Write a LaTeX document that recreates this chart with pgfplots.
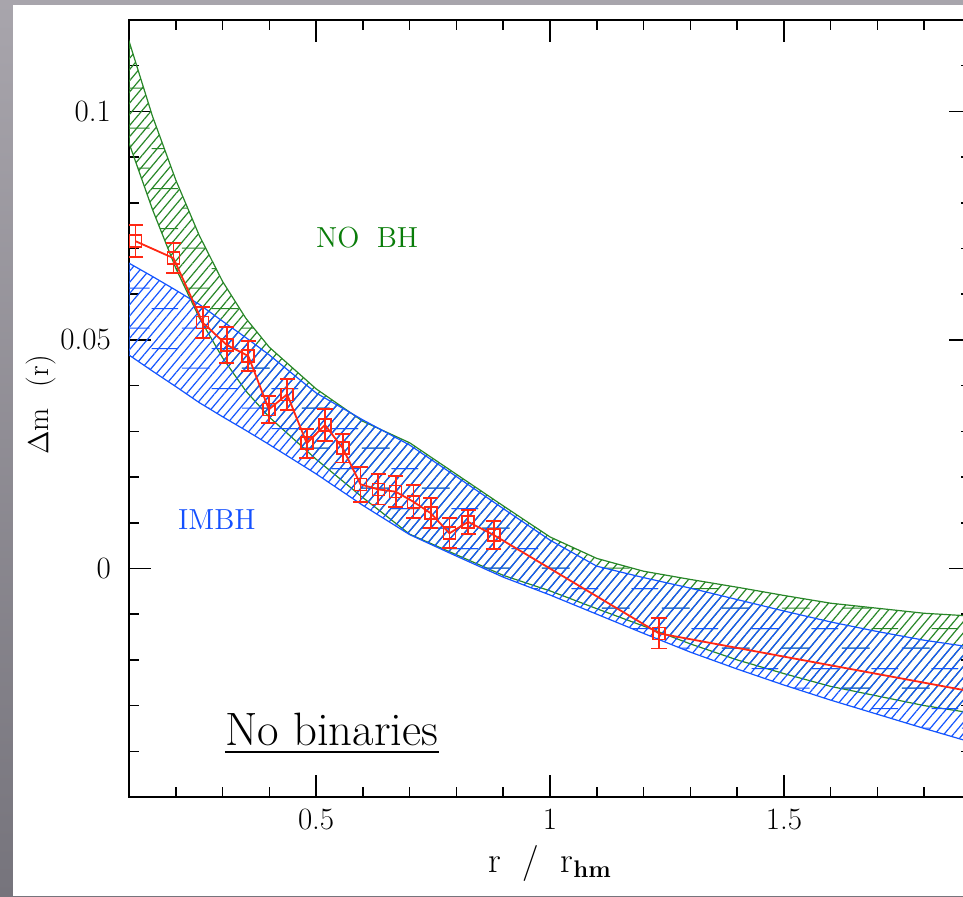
\documentclass[border=0pt]{standalone}
\usepackage{pgfplots}
\usepackage{pgfplotstable}
\pgfplotsset{compat=1.18}
\usetikzlibrary{patterns.meta}
\definecolor{bandgreen}{RGB}{40,135,40}
\definecolor{bandblue}{RGB}{20,85,255}
\definecolor{txtgreen}{RGB}{10,125,10}
\definecolor{txtblue}{RGB}{20,80,255}
\definecolor{datared}{RGB}{255,40,20}
\definecolor{bgtop}{RGB}{168,165,172}
\definecolor{bgbot}{RGB}{118,116,124}

% staggered short horizontal dashes (second hatching of the bands)
\pgfdeclarepatternformonly{hdash}{\pgfqpoint{0pt}{0pt}}{\pgfqpoint{30pt}{20pt}}{\pgfqpoint{30pt}{20pt}}{
  \pgfsetlinewidth{0.55pt}
  \pgfpathmoveto{\pgfqpoint{1pt}{4.5pt}}\pgfpathlineto{\pgfqpoint{15pt}{4.5pt}}
  \pgfpathmoveto{\pgfqpoint{16pt}{14.5pt}}\pgfpathlineto{\pgfqpoint{29.5pt}{14.5pt}}
  \pgfusepath{stroke}
}

% green band (NO BH): upper edge left to right, then lower edge right to left
\pgfplotstableread{
x     y
0.10  0.1154
0.15  0.0990
0.20  0.0850
0.25  0.0729
0.30  0.0628
0.35  0.0547
0.40  0.0484
0.50  0.0393
0.60  0.0322
0.70  0.0275
0.80  0.0206
0.90  0.0137
1.00  0.0069
1.10  0.0022
1.20 -0.0006
1.30 -0.0024
1.40 -0.0041
1.50 -0.0059
1.60 -0.0076
1.70 -0.0087
1.80 -0.0098
1.90 -0.0104
1.90 -0.0316
1.80 -0.0300
1.70 -0.0279
1.60 -0.0258
1.50 -0.0230
1.40 -0.0200
1.30 -0.0165
1.20 -0.0126
1.10 -0.0088
1.00 -0.0049
0.90 -0.0015
0.80  0.0030
0.70  0.0075
0.60  0.0155
0.50  0.0239
0.40  0.0331
0.35  0.0388
0.30  0.0461
0.25  0.0549
0.20  0.0657
0.15  0.0786
0.10  0.0931
}\greenband

% blue band (IMBH): upper edge left to right, then lower edge right to left
\pgfplotstableread{
x     y
0.10  0.0668
0.15  0.0639
0.20  0.0609
0.25  0.0578
0.30  0.0541
0.35  0.0505
0.40  0.0467
0.50  0.0384
0.60  0.0325
0.70  0.0270
0.80  0.0201
0.90  0.0131
1.00  0.0062
1.10  0.0005
1.20 -0.0020
1.30 -0.0043
1.40 -0.0068
1.50 -0.0093
1.60 -0.0117
1.70 -0.0138
1.80 -0.0157
1.90 -0.0172
1.90 -0.0380
1.80 -0.0350
1.70 -0.0319
1.60 -0.0288
1.50 -0.0255
1.40 -0.0220
1.30 -0.0183
1.20 -0.0142
1.10 -0.0100
1.00 -0.0058
0.90 -0.0019
0.80  0.0027
0.70  0.0074
0.60  0.0138
0.50  0.0207
0.40  0.0271
0.35  0.0302
0.30  0.0332
0.25  0.0363
0.20  0.0398
0.15  0.0432
0.10  0.0467
}\blueband

% measured profile
\pgfplotstableread{
x      y        e
0.114  0.0716   0.0035
0.195  0.0679   0.0033
0.2575 0.0538   0.0034
0.309  0.0489   0.0039
0.355  0.0465   0.0033
0.399  0.0348   0.0030
0.438  0.0381   0.0034
0.480  0.0274   0.0032
0.519  0.0314   0.0035
0.557  0.0263   0.0031
0.595  0.0184   0.0038
0.633  0.0173   0.0033
0.670  0.0168   0.0034
0.708  0.0146   0.0036
0.745  0.0121   0.0033
0.785  0.0077   0.0033
0.825  0.0102   0.0026
0.880  0.0073   0.0031
1.233 -0.0142   0.0033
2.000 -0.0288   0.0033
}\reddata

\begin{document}
\begin{tikzpicture}
\shade[top color=bgtop,bottom color=bgbot] (0pt,0pt) rectangle (481.5pt,448pt);
\fill[white] (6.5pt,0pt) rectangle (481.5pt,445.5pt);
\begin{axis}[
  at={(64.5pt,49.5pt)}, anchor=south west, scale only axis,
  width=421pt, height=388.5pt,
  xmin=0.1, xmax=1.9, ymin=-0.05, ymax=0.12,
  axis line style={line width=1pt},
  tick align=inside,
  major tick length=10.8pt, minor tick length=5pt,
  every tick/.style={black, line width=0.75pt},
  xtick={0.5,1,1.5}, xticklabels={0.5,1,1.5},
  minor xtick={0.2,0.3,0.4,0.6,0.7,0.8,0.9,1.1,1.2,1.3,1.4,1.6,1.7,1.8},
  ytick={0,0.05,0.1}, yticklabels={0,0.05,0.1},
  minor ytick={-0.04,-0.03,-0.02,-0.01,0.01,0.02,0.03,0.04,0.06,0.07,0.08,0.09,0.11},
  tick label style={font=\fontsize{15.5}{18}\selectfont},
  yticklabel style={xshift=-5.5pt},
  xticklabel style={yshift=-2.5pt},
  ylabel={$\Delta$m\hspace{0.7em}(r)},
  ylabel style={at={(axis description cs:-0.1045,0.5045)}, anchor=center, font=\fontsize{15}{18}\selectfont},
  xlabel={r\hspace{0.6em}/\hspace{0.6em}r$_{\mathbf{hm}}$},
  xlabel style={at={(axis description cs:0.5,-0.0975)}, anchor=base, font=\fontsize{18}{21}\selectfont},
]
% green band
\addplot[bandgreen, line width=0.6pt, pattern={Lines[angle=50,distance=3.6pt,line width=0.6pt]}, pattern color=bandgreen] table[x=x,y=y]{\greenband} -- cycle;
\addplot[draw=none, pattern=hdash, pattern color=bandgreen] table[x=x,y=y]{\greenband} -- cycle;
% blue band
\addplot[bandblue, line width=0.6pt, pattern={Lines[angle=50,distance=3.6pt,line width=0.6pt]}, pattern color=bandblue] table[x=x,y=y]{\blueband} -- cycle;
\addplot[draw=none, pattern=hdash, pattern color=bandblue] table[x=x,y=y]{\blueband} -- cycle;
% data
\addplot[datared, line width=0.9pt, mark=square, mark size=3pt,
  mark options={solid, line width=0.8pt},
  error bars/.cd, y dir=both, y explicit,
  error bar style={line width=0.9pt, datared},
  error mark options={rotate=90, mark size=3.8pt, line width=0.9pt, datared}]
  table[x=x, y=y, y error=e]{\reddata};
% labels
\node[txtgreen, font=\fontsize{14.5}{17}\selectfont] at (axis cs:0.609,0.0723) {NO\hspace{0.6em}BH};
\node[txtblue, font=\fontsize{14.5}{17}\selectfont] at (axis cs:0.288,0.0108) {IMBH};
\node[anchor=base west, inner sep=0pt, font=\fontsize{23.4}{28}\selectfont] (nb) at (axis cs:0.305,-0.0388) {No binaries};
\draw[line width=1.3pt] ([yshift=-3pt]nb.base west) -- ([yshift=-3pt]nb.base east);
\end{axis}
\pgfresetboundingbox
\useasboundingbox (0pt,0pt) rectangle (481.5pt,448pt);
\end{tikzpicture}
\end{document}
